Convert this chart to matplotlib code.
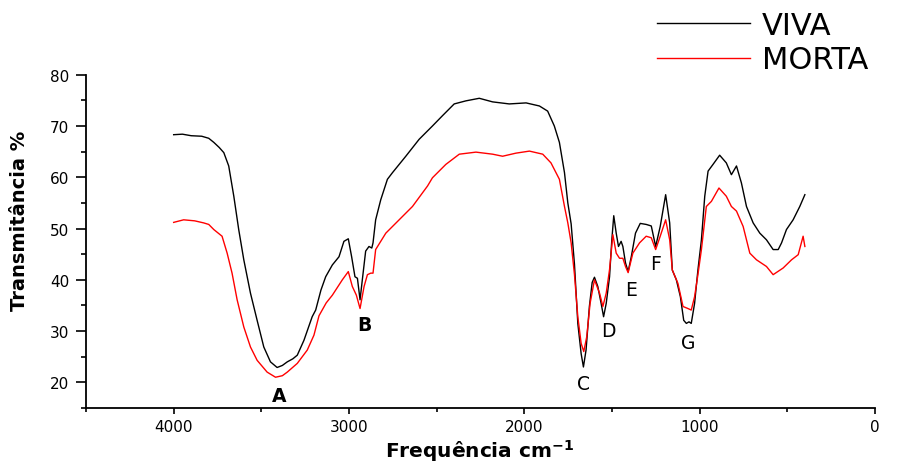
import matplotlib
matplotlib.use("Agg")
import matplotlib.pyplot as plt
from matplotlib.ticker import MultipleLocator

plt.rcParams['font.family'] = ['DejaVu Sans']

# VIVA (black)
viva_x = [4000, 3950, 3900, 3840, 3800, 3771, 3740, 3714, 3686, 3657, 3629, 3600,
          3562, 3524, 3486, 3448, 3410, 3380, 3352, 3320, 3295, 3257, 3210, 3190,
          3160, 3133, 3095, 3057, 3029, 3004, 2985, 2966, 2952, 2937, 2924, 2905,
          2886, 2870, 2863, 2848, 2819, 2781, 2752, 2676, 2600, 2524, 2467, 2400,
          2333, 2257, 2181, 2086, 1990, 1914, 1867, 1829, 1800, 1771, 1752, 1733,
          1714, 1695, 1676, 1663, 1648, 1629, 1613, 1600, 1581, 1562, 1548, 1533,
          1514, 1501, 1490, 1476, 1463, 1448, 1438, 1423, 1408, 1390, 1366, 1339,
          1305, 1276, 1251, 1225, 1194, 1171, 1156, 1133, 1110, 1091, 1076, 1061,
          1048, 1029, 1010, 990, 971, 952, 924, 886, 848, 819, 790, 762, 733, 695,
          657, 619, 581, 552, 533, 505, 467, 429, 400]
viva_y = [68.3, 68.4, 68.1, 68.0, 67.6, 66.8, 65.8, 64.8, 62.2, 56.3, 49.8, 43.9,
          37.4, 32.1, 26.9, 24.0, 22.9, 23.3, 24.0, 24.6, 25.3, 28.2, 32.8, 34.1,
          38.0, 40.6, 42.9, 44.5, 47.5, 48.0, 44.5, 40.6, 40.3, 36.1, 40.0, 45.6,
          46.5, 46.2, 47.2, 51.7, 55.6, 59.6, 60.9, 64.1, 67.4, 70.0, 72.0, 74.3,
          74.9, 75.4, 74.7, 74.3, 74.5, 73.9, 72.9, 70.0, 66.8, 60.9, 55.0, 50.9,
          43.0, 31.5, 25.6, 23.0, 26.3, 34.8, 39.5, 40.5, 38.7, 35.4, 32.8, 35.4,
          40.6, 47.8, 52.5, 49.1, 46.5, 47.5, 46.5, 43.3, 41.6, 44.5, 49.1, 51.0,
          50.8, 50.5, 46.5, 50.4, 56.6, 51.1, 41.9, 40.0, 36.7, 32.1, 31.5, 31.8,
          31.5, 35.4, 41.9, 47.8, 56.3, 61.2, 62.5, 64.3, 62.8, 60.5, 62.2, 58.9,
          54.3, 51.1, 49.1, 47.8, 45.9, 45.9, 47.2, 49.8, 51.7, 54.3, 56.6]

# MORTA (red)
morta_x = [4000, 3943, 3880, 3829, 3800, 3771, 3724, 3695, 3667, 3638, 3600, 3562,
           3524, 3467, 3419, 3380, 3352, 3295, 3238, 3200, 3171, 3130, 3095, 3038,
           3004, 2981, 2958, 2937, 2914, 2895, 2876, 2863, 2848, 2790, 2714, 2638,
           2552, 2524, 2448, 2371, 2276, 2181, 2124, 2048, 1971, 1895, 1848, 1800,
           1771, 1752, 1733, 1714, 1695, 1676, 1661, 1644, 1625, 1600, 1571, 1552,
           1533, 1514, 1495, 1476, 1457, 1438, 1423, 1408, 1381, 1343, 1305, 1276,
           1251, 1225, 1194, 1171, 1156, 1124, 1095, 1067, 1048, 1029, 1010, 990,
           962, 933, 890, 848, 819, 790, 752, 714, 676, 619, 581, 524, 476, 438,
           410, 400]
morta_y = [51.2, 51.7, 51.5, 51.1, 50.8, 49.8, 48.5, 45.2, 41.3, 36.1, 30.8, 26.9,
           24.3, 22.0, 21.0, 21.3, 22.0, 23.7, 26.3, 29.2, 33.0, 35.5, 37.0, 40.0,
           41.6, 38.7, 37.0, 34.4, 38.7, 41.0, 41.3, 41.3, 45.9, 49.1, 51.7, 54.3,
           58.3, 59.9, 62.5, 64.5, 64.9, 64.5, 64.1, 64.7, 65.1, 64.5, 62.8, 59.6,
           54.3, 51.1, 47.2, 41.0, 32.8, 27.6, 26.0, 28.9, 35.4, 40.0, 37.4, 34.8,
           37.4, 42.0, 48.8, 45.2, 44.2, 44.2, 42.6, 41.4, 45.2, 47.2, 48.5, 48.2,
           45.9, 48.5, 51.7, 47.8, 41.9, 39.3, 34.8, 34.4, 34.1, 36.7, 41.0, 45.9,
           54.3, 55.3, 57.9, 56.3, 54.3, 53.4, 50.4, 45.2, 43.9, 42.6, 41.0, 42.3,
           43.9, 44.9, 48.5, 46.5]

peak_labels = ['A', 'B', 'C', 'D', 'E', 'F', 'G']
peak_x = [3400, 2914, 1663, 1520, 1389, 1251, 1063]
peak_y = [17.5, 31.2, 19.8, 30.2, 38.2, 43.1, 27.8]

fig = plt.figure(figsize=(9.14, 4.64), dpi=100)
ax = fig.add_axes([86/914, 1-409/464, (875-86)/914, (409-75.7)/464])

l1, = ax.plot(viva_x, viva_y, color='black', lw=1.0, label='VIVA')
l2, = ax.plot(morta_x, morta_y, color='red', lw=1.0, label='MORTA')

for lab, px, py in zip(peak_labels, peak_x, peak_y):
    ax.text(px, py, lab, ha='center', va='center', fontsize=13.5,
            fontweight='bold' if lab in 'AB' else 'normal')

ax.set_xlim(4500, 0)
ax.set_ylim(15, 80)
ax.xaxis.set_major_locator(MultipleLocator(1000))
ax.xaxis.set_minor_locator(MultipleLocator(500))
ax.yaxis.set_minor_locator(MultipleLocator(5))
ax.set_yticks(range(20, 81, 10))
for s in ['top', 'right']:
    ax.spines[s].set_visible(False)
for s in ['left', 'bottom']:
    ax.spines[s].set_linewidth(1.3)
ax.tick_params(which='both', direction='out', width=1.2, labelsize=11)
ax.tick_params(axis='y', which='major', length=7, pad=5)
ax.tick_params(axis='y', which='minor', length=3.5)
ax.tick_params(axis='x', which='major', length=4, pad=4)
ax.tick_params(axis='x', which='minor', length=3)

fig.text(20/914, 1-221/464, 'Transmitância %', rotation=90, ha='center', va='center',
         fontsize=14, fontweight='bold')
fig.text(480/914, 1-451/464, 'Frequência cm$^{\\mathbf{-1}}$', ha='center', va='center',
         fontsize=14.5, fontweight='bold')

fig.legend(handles=[l1, l2], loc='upper left', bbox_to_anchor=(657/914, 1-12/464),
           frameon=False, fontsize=22, handlelength=3.04, handletextpad=0.39,
           labelspacing=0.17, borderpad=0.0, borderaxespad=0.0)

fig.savefig('out.png', dpi=100)
